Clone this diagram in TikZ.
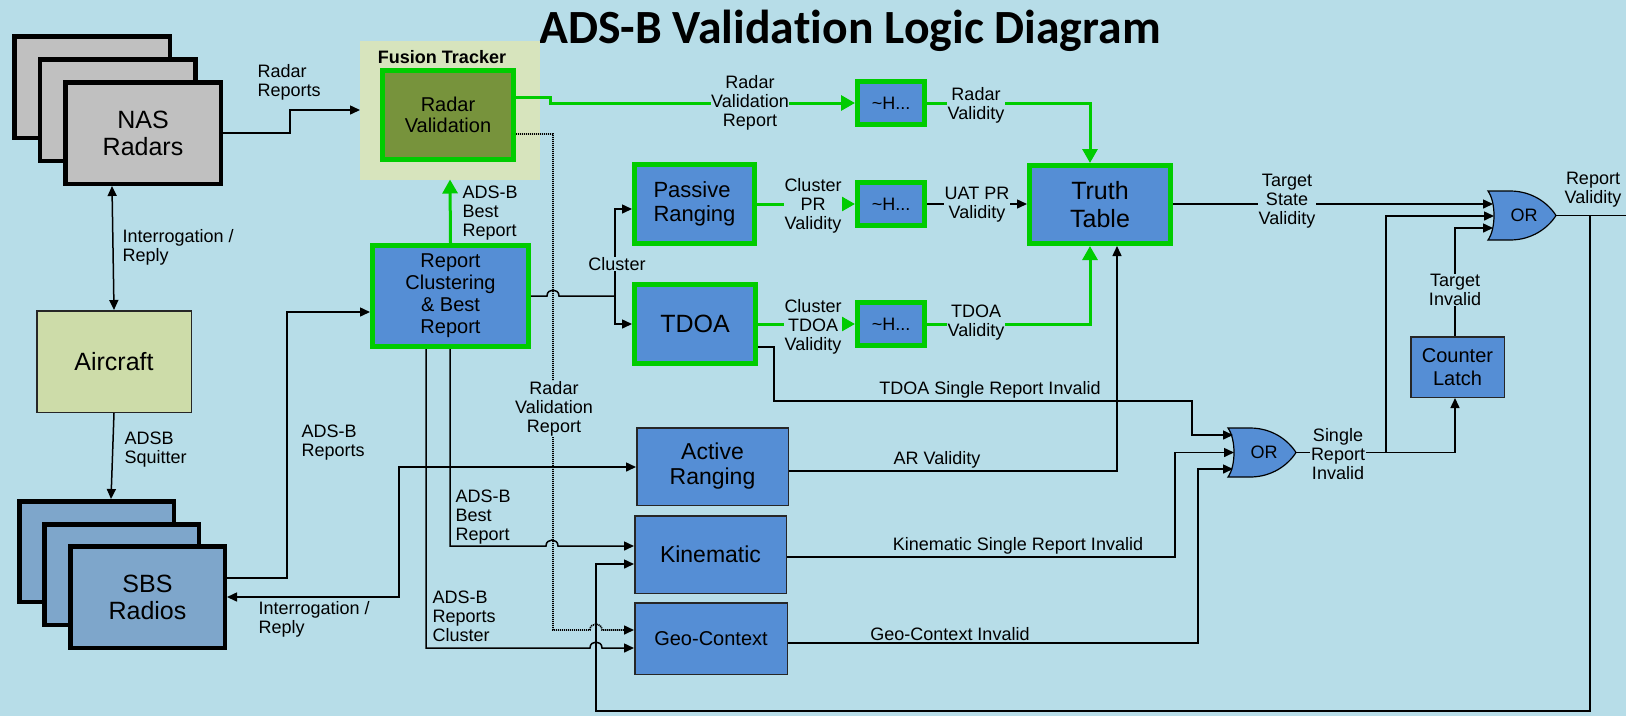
\documentclass[tikz,border=0pt]{standalone}
\usepackage{graphicx}
\usepackage{fontspec}
\setmainfont{Liberation Sans}
\newfontfamily\titlefont{Carlito}[Ligatures=NoCommon]
\usetikzlibrary{arrows.meta}
\definecolor{bg}{HTML}{B7DDE8}
\definecolor{bblue}{HTML}{558ED5}
\definecolor{grn}{HTML}{00CC00}
\definecolor{olive}{HTML}{77933C}
\definecolor{ftbg}{HTML}{D7E4BD}
\definecolor{acbg}{HTML}{CDDCA9}
\definecolor{nasgray}{HTML}{C0C0C0}
\definecolor{sbsblue}{HTML}{7EA6CB}
\newcommand\myfs[2]{\fontsize{#1}{#2}\selectfont}
\begin{document}
\begin{tikzpicture}[x=1pt,y=-1pt,
  wire/.style={line width=1.5pt, draw=black},
  arr/.style={-{Triangle[length=10pt,width=9pt]}},
  darr/.style={{Triangle[length=10pt,width=9pt]}-{Triangle[length=10pt,width=9pt]}},
  gwire/.style={line width=3pt, draw=grn, -{Triangle[length=14pt,width=15pt]}},
  dotw/.style={line width=1.6pt, dash pattern=on 1.2pt off 0.8pt},
  gbox/.style={draw=grn, line width=5pt, fill=bblue, inner sep=0pt, align=center},
  tbox/.style={draw=black!85, line width=1.5pt, fill=bblue, inner sep=0pt, align=center},
  stack/.style={draw=black, line width=4.5pt, inner sep=0pt, align=center},
  lbl/.style={font=\myfs{18}{19}, align=center, inner sep=0.5pt},
  lbl left/.style={lbl, align=left, anchor=west},
  lbg/.style={lbl, fill=bg},
  gate/.style={fill=bblue, draw=black, line width=1.2pt}
]
\fill[bg] (0,0) rectangle (1626,716);
\useasboundingbox (0,0) rectangle (1626,716);

% title
\node (title) at (850,31) {\resizebox{621pt}{!}{\titlefont\bfseries ADS-B Valida\kern0pt tion Logic Diagram}};

% NAS radars stack
\node[stack, fill=nasgray, minimum width=155.5pt, minimum height=101.5pt] (nas3) at (92,87) {};
\node[stack, fill=nasgray, minimum width=155.5pt, minimum height=101.5pt] (nas2) at (117.5,110) {};
\node[stack, fill=nasgray, minimum width=155.5pt, minimum height=101.5pt, font=\myfs{25}{27}] (nas) at (143,133) {NAS\\Radars};

% SBS radios stack
\node[stack, fill=sbsblue, minimum width=154.5pt, minimum height=100.5pt] (sbs3) at (96.5,551.5) {};
\node[stack, fill=sbsblue, minimum width=154.5pt, minimum height=100.5pt] (sbs2) at (121.5,574.5) {};
\node[stack, fill=sbsblue, minimum width=154.5pt, minimum height=101.5pt, font=\myfs{25}{27}] (sbs) at (147.5,597) {SBS\\Radios};

% Aircraft
\node[tbox, fill=acbg, minimum width=154.5pt, minimum height=101.5pt, font=\myfs{25}{27}] (ac) at (114,361.5) {Aircraft};

% Fusion tracker
\node[fill=ftbg, inner sep=0pt, outer sep=0pt, minimum width=180pt, minimum height=139pt] (fusion) at (450,110) {};
\node[font=\bfseries\myfs{18}{20}, inner sep=0pt] (fttxt) at (442,57) {Fusion Tracker};
\node[gbox, fill=olive, minimum width=131pt, minimum height=89pt, font=\myfs{20}{21}] (radval) at (448,115) {Radar\\Validation};

% processing boxes
\node[gbox, minimum width=156pt, minimum height=101pt, font=\myfs{20}{22}] (rc) at (450.5,296) {Report\\Clustering\\\& Best\\Report};
\node[gbox, minimum width=120pt, minimum height=79pt, font=\myfs{22}{23.5}, align=left] (pr) at (694.5,204) {Passive\\Ranging};
\node[gbox, minimum width=121pt, minimum height=79pt, font=\myfs{25}{27}] (tdoa) at (695,324) {TDOA};
\node[gbox, minimum width=141pt, minimum height=78pt, font=\myfs{25}{28}] (tt) at (1100,204.5) {Truth\\Table};
\node[gbox, minimum width=67pt, minimum height=43pt, font=\myfs{18}{20}] (h1) at (891,103) {\textasciitilde H...};
\node[gbox, minimum width=67pt, minimum height=43pt, font=\myfs{18}{20}] (h2) at (891,204) {\textasciitilde H...};
\node[gbox, minimum width=67pt, minimum height=43pt, font=\myfs{18}{20}] (h3) at (891,324) {\textasciitilde H...};
\node[tbox, minimum width=151.5pt, minimum height=77.5pt, font=\myfs{23}{25}] (ar) at (712.5,466.5) {Active\\Ranging};
\node[tbox, minimum width=151.5pt, minimum height=77.5pt, font=\myfs{23}{25}] (kin) at (710.5,554.5) {Kinematic};
\node[tbox, minimum width=152.5pt, minimum height=71.5pt, font=\myfs{20}{22}] (geo) at (711,638.5) {Geo-Context};
\node[tbox, minimum width=93.5pt, minimum height=60.5pt, font=\myfs{20}{23}] (cl) at (1457.5,367) {Counter\\Latch};

% OR gates
\begin{scope}[shift={(1228,428)}]
\draw[gate] (0,0) -- (22,0) .. controls (44,0) and (60,12) .. (68,24.5) .. controls (60,37) and (44,49) .. (22,49) -- (0,49) .. controls (8,38) and (8,11) .. (0,0) -- cycle;
\end{scope}
\node[font=\myfs{18}{20}] (or1) at (1264,452.5) {OR};
\coordinate (or1a) at (1233,435);
\coordinate (or1b) at (1234,452.5);
\coordinate (or1c) at (1233,469);
\coordinate (or1o) at (1296,452.5);
\begin{scope}[shift={(1488,191)}]
\draw[gate] (0,0) -- (22,0) .. controls (44,0) and (60,12) .. (68,24.5) .. controls (60,37) and (44,49) .. (22,49) -- (0,49) .. controls (8,38) and (8,11) .. (0,0) -- cycle;
\end{scope}
\node[font=\myfs{18}{20}] (or2) at (1524,215.5) {OR};
\coordinate (or2a) at (1493,204);
\coordinate (or2b) at (1494,216);
\coordinate (or2c) at (1493,228);
\coordinate (or2o) at (1556,215.5);
\coordinate (rvout) at (1626,215.5);

% ---------- black connectors ----------
\draw[wire, arr] (nas.east) -- (290,133) -- (290,110) -- (fusion.west);
\draw[wire, darr] (112,0 |- nas.south) -- (ac.north);
\draw[wire, arr] (ac.south) -- (111,0 |- sbs3.north);
\draw[wire, arr] (sbs.east |- 0,578) -- (287,578) -- (287,312) -- (rc.west |- 0,312);
\draw[wire, darr] (sbs.east) -- (399,597) -- (399,467) -- (ar.west |- 0,467);
% cluster
\draw[wire] (rc.east) -- (547,296) .. controls (547,288) and (559,288) .. (559,296) -- (615,296);
\draw[wire, arr] (615,296) -- (615,209) -- (pr.west |- 0,209);
\draw[wire, arr] (615,296) -- (615,324) -- (tdoa.west);
% rc bottom outputs
\draw[wire, arr] (426,0 |- rc.south) -- (426,648) -- (590,648) .. controls (590,640) and (602,640) .. (602,648) -- (geo.west |- 0,648);
\draw[wire, arr] (450,0 |- rc.south) -- (450,546) -- (546,546) .. controls (546,538) and (558,538) .. (558,546) -- (kin.west |- 0,546);
% dotted radar validation report
\draw[dotw, arr] (radval.east |- 0,134) -- (553,134) -- (553,630) -- (590,630) .. controls (590,622) and (602,622) .. (602,630) -- (geo.west |- 0,630);
% H2 -> TT
\draw[wire, arr] (h2.east) -- (tt.west |- 0,204);
% AR -> TT
\draw[wire, arr] (ar.east |- 0,471) -- (1117,471) -- (1117,0 |- tt.south);
% invalid lines -> OR1
\draw[wire, arr] (tdoa.east |- 0,347) -- (774,347) -- (774,401) -- (1192,401) -- (1192,435) -- (or1a);
\draw[wire, arr] (kin.east |- 0,557) -- (1175,557) -- (1175,452.5) -- (or1b);
\draw[wire, arr] (geo.east |- 0,643) -- (1198,643) -- (1198,469) -- (or1c);
% TT -> OR2
\draw[wire, arr] (tt.east |- 0,204) -- (or2a);
% OR1 -> counter latch and OR2
\draw[wire, arr] (or1o) -- (1455,452.5) -- (1455,0 |- cl.south);
\draw[wire, arr] (1386,452.5) -- (1386,216) -- (or2b);
\draw[wire, arr] (1455,0 |- cl.north) -- (1455,228) -- (or2c);
% OR2 output and feedback
\draw[wire] (or2o) -- (rvout);
\draw[wire, arr] (1590,215.5) -- (1590,711) -- (596,711) -- (596,564) -- (kin.west |- 0,564);

% ---------- green connectors ----------
\draw[gwire] (rc.north) -- (fusion.south);
\draw[gwire] (radval.east |- 0,97) -- (550,97) -- (550,103) -- (h1.west);
\draw[gwire] (h1.east) -- (1090,103) -- (1090,0 |- tt.north);
\draw[gwire] (pr.east) -- (h2.west);
\draw[gwire] (tdoa.east) -- (h3.west);
\draw[gwire] (h3.east) -- (1090,324) -- (1090,0 |- tt.south);

% ---------- labels ----------
\node[lbl left] (lRR) at (257,82) {Radar\\Reports};
\node[lbl left] (lIR1) at (122,247.5) {Interrogation /\\Reply};
\node[lbl left] (lSq) at (124,450) {ADSB\\Squitter};
\node[lbl left] (lAR) at (301,443) {ADS-B\\Reports};
\node[lbl left] (lIR2) at (258,619) {Interrogation /\\Reply};
\node[lbl left] (lBR1) at (462,213) {ADS-B\\Best\\Report};
\node[lbl left] (lBR2) at (455,517) {ADS-B\\Best\\Report};
\node[lbl left] (lRC) at (432,616) {ADS-B\\Reports\\Cluster};
\node[lbg] (lRVR2) at (554,409) {Radar\\Validation\\Report};
\node[lbg] (lCl) at (617,264) {Cluster};
\node[lbg] (lRVR1) at (750,103) {Radar\\Validation\\Report};
\node[lbg] (lRV) at (976,105) {Radar\\Validity};
\node[lbg] (lCPR) at (813,206) {Cluster\\PR\\Validity};
\node[lbg] (lUAT) at (977,205) {UAT PR\\Validity};
\node[lbg] (lCT) at (813,327) {Cluster\\TDOA\\Validity};
\node[lbg] (lTV) at (976,323) {TDOA\\Validity};
\node[lbl, anchor=south] (lARV) at (937,469) {AR Validity};
\node[lbl, anchor=south] (lTSR) at (990,399) {TDOA Single Report Invalid};
\node[lbl, anchor=south] (lKSR) at (1018,555) {Kinematic Single Report Invalid};
\node[lbl, anchor=south] (lGCI) at (950,641) {Geo-Context Invalid};
\node[lbg] (lTSV) at (1287,201) {Target\\State\\Validity};
\node[lbg] (lSRI) at (1338,454) {Single\\Report\\Invalid};
\node[lbg] (lTI) at (1455,290) {Target\\Invalid};
\node[lbl] (lRpV) at (1593,190) {Report\\Validity};
\end{tikzpicture}
\end{document}
